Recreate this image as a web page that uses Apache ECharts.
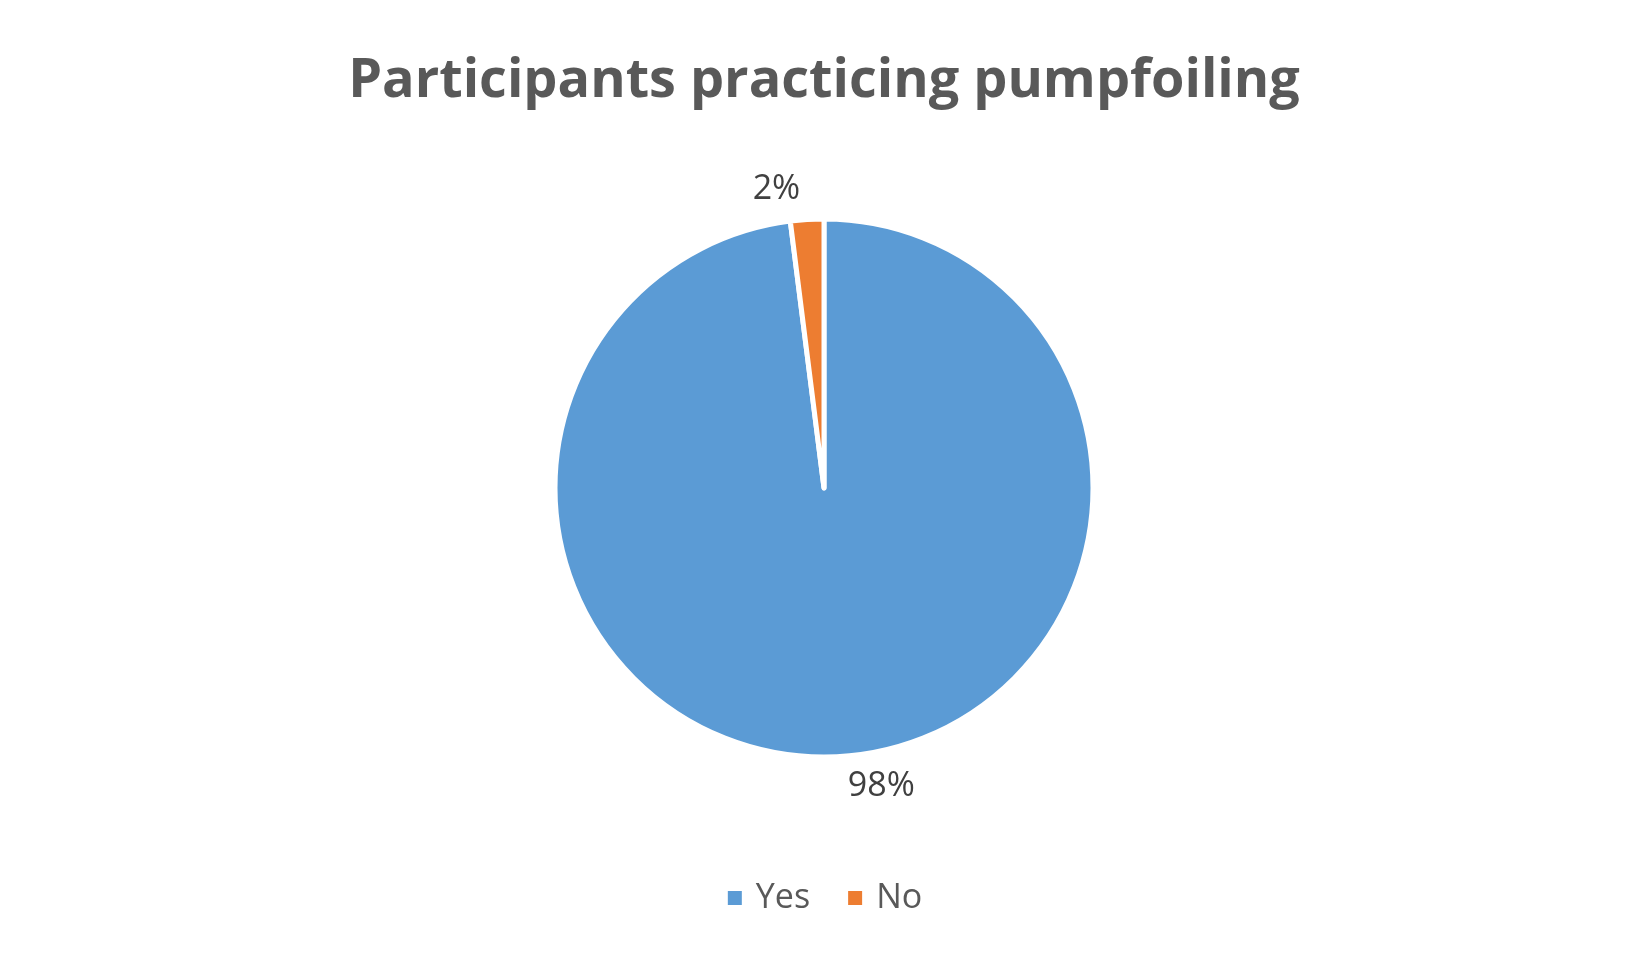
<!DOCTYPE html>
<html><head><meta charset="utf-8">
<script src="https://cdn.jsdelivr.net/npm/echarts@6/dist/echarts.min.js"></script>
<style>html,body{margin:0;padding:0;background:#fff}#c{width:1648px;height:962px}</style>
</head><body><div id="c"></div>
<script>
const categories = ['Yes', 'No'];
const values = [98, 2];
const colors = ['#5B9BD5', '#ED7D31'];
const chart = echarts.init(document.getElementById('c'));
chart.setOption({
  animation: false,
  title: {
    text: 'Participants practicing pumpfoiling', left: 'center', top: 50,
    textStyle: { fontFamily: 'Open Sans', fontWeight: 'bold', fontSize: 54, color: '#595959' }
  },
  legend: {
    bottom: 42, left: 'center', itemWidth: 16, itemHeight: 16, itemGap: 36, icon: 'rect',
    textStyle: { fontFamily: 'Open Sans', fontSize: 34, color: '#595959', padding: [0, 0, 0, 8] }
  },
  series: [{
    type: 'pie', center: [824, 488], radius: 269, startAngle: 90, clockwise: true,
    itemStyle: { borderColor: '#fff', borderWidth: 5 },
    label: { position: 'outside', formatter: '{d}%', fontFamily: 'Open Sans', fontSize: 34, color: '#404040' },
    labelLine: { show: false, length: 30, length2: 0 },
    data: categories.map((c, i) => ({ name: c, value: values[i], itemStyle: { color: colors[i] } }))
  }]
});
</script></body></html>
